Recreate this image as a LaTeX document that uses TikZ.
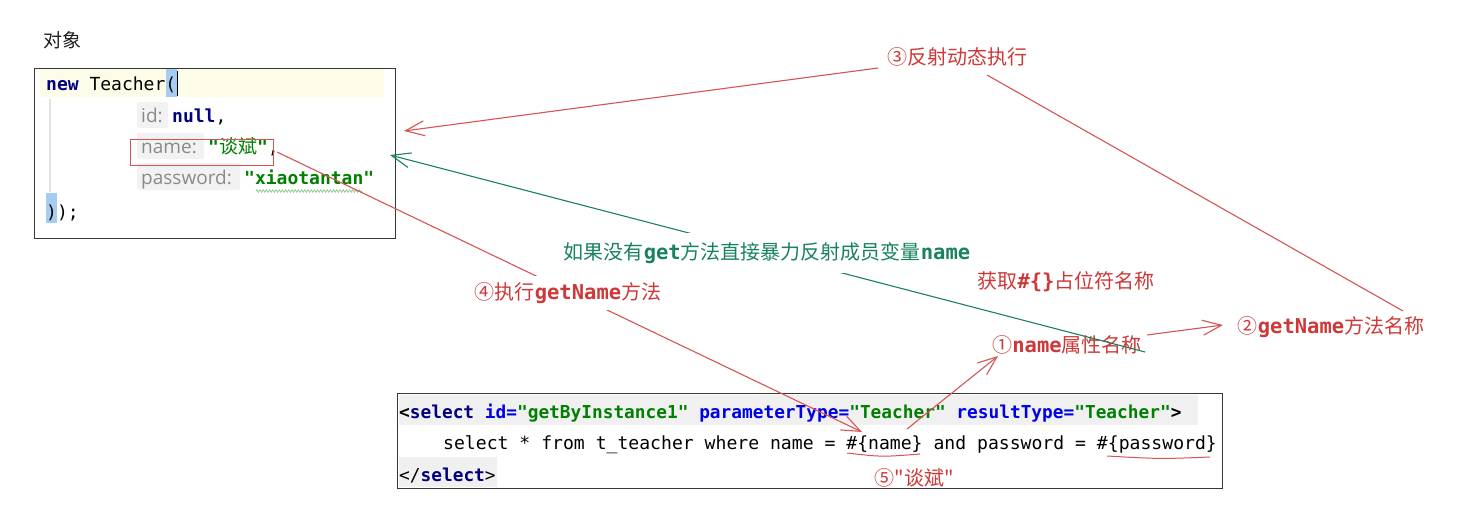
\documentclass[tikz,border=0pt]{standalone}
\usepackage{fontspec}
\setmonofont{DejaVu Sans Mono}
\newfontfamily\cjk{Noto Sans CJK SC}
\newfontfamily\hintfont{Open Sans}
\usetikzlibrary{arrows.meta,decorations.pathmorphing}

\definecolor{annred}{RGB}{206,56,56}
\definecolor{linered}{RGB}{214,84,84}
\definecolor{anngreen}{RGB}{24,130,96}
\definecolor{kwnavy}{RGB}{0,0,128}
\definecolor{attrblue}{RGB}{0,0,230}
\definecolor{strgreen}{RGB}{0,128,0}
\definecolor{hintgray}{RGB}{138,138,138}
\definecolor{hintbg}{RGB}{242,242,242}
\definecolor{lineyellow}{RGB}{253,252,232}
\definecolor{selblue}{RGB}{166,204,242}
\definecolor{codebg}{RGB}{240,240,240}
\definecolor{framegray}{RGB}{55,55,55}
\definecolor{guidegray}{RGB}{226,226,226}
\definecolor{squiggle}{RGB}{150,205,150}

\newcommand\annmono[1]{{\ttfamily\bfseries\fontsize{20.5}{24}\selectfont #1}}

\tikzset{
  code/.style={inner sep=0pt, anchor=base west, font=\ttfamily\fontsize{18}{20}\selectfont},
  hintst/.style={inner sep=0pt, anchor=base west, text=hintgray, font=\hintfont\fontsize{19}{22}\selectfont},
  ann/.style={inner sep=0pt, text=annred, font=\cjk\fontsize{20}{24}\selectfont},
  anng/.style={inner sep=0pt, text=anngreen, font=\cjk\fontsize{20}{24}\selectfont},
  framebox/.style={draw=framegray, line width=1.3pt, inner sep=0pt, anchor=north west},
  redarr/.style={draw=linered, line width=1.1pt, -{Straight Barb[length=19pt,width=15pt]}},
  redline/.style={draw=linered, line width=1.1pt},
  greenarr/.style={draw=anngreen, line width=1.1pt, -{Straight Barb[length=19pt,width=15pt]}},
}

\begin{document}
\begin{tikzpicture}[x=1pt,y=-1pt]
\fill[white] (0,0) rectangle (1464,509);
\useasboundingbox (0,0) rectangle (1464,509);

% ---------- object label ----------
\node[inner sep=0pt, font=\cjk\fontsize{19}{22}\selectfont, text=black!88] (objlabel) at (62,40) {对象};

% ---------- top code box ----------
\fill[lineyellow] (40,69) rectangle (384,97);
\fill[selblue] (166,69) rectangle (177,97);
\fill[selblue] (46,193) rectangle (57,223);
\draw[guidegray, line width=1.5pt] (50,99) -- (50,192);
\fill[hintbg, rounded corners=2pt] (137,102) rectangle (168,128);
\fill[hintbg, rounded corners=2pt] (137,133) rectangle (204,159);
\fill[hintbg, rounded corners=2pt] (137,163) rectangle (240,190);

\node[framebox, minimum width=361pt, minimum height=170pt] (objbox) at (34,68) {};

\node[code] (c1) at (46,90) {\textcolor{kwnavy}{\bfseries new} Teacher(};
\draw[black, line width=1.6pt] (177.5,71) -- (177.5,96);
\node[hintst] (h1) at (141,122) {id:};
\node[code] (c2) at (172,122) {\textcolor{kwnavy}{\bfseries null},};
\node[hintst] (h2) at (141,153) {name:};
\node[code] (c3) at (208,153) {\textcolor{strgreen}{\bfseries"{\mdseries\cjk\fontsize{19}{20}\selectfont 谈斌}"},};
\node[hintst] (h3) at (141,184) {password:};
\node[code] (c4) at (244,184) {\textcolor{strgreen}{\bfseries"xiaotantan"}};
\draw[squiggle, line width=0.8pt, decorate, decoration={zigzag, amplitude=1.3pt, segment length=3.2pt}] (256,191) -- (362,191);
\node[code] (c5) at (46,218) {));};

\node[draw=linered, line width=1pt, inner sep=0pt, anchor=north west, minimum width=143pt, minimum height=26pt] (namebox) at (130,139) {};

% ---------- bottom code box ----------
\fill[codebg] (399,395) rectangle (1198,425);
\fill[codebg] (399,457) rectangle (497,487);
\node[framebox, minimum width=825pt, minimum height=95pt] (selbox) at (397,393) {};

\node[code, font=\ttfamily\bfseries\fontsize{17.8}{20}\selectfont] (s1) at (399,418)
  {<\textcolor{kwnavy}{select} \textcolor{attrblue}{id=}\textcolor{strgreen}{"getByInstance1"} \textcolor{attrblue}{parameterType=}\textcolor{strgreen}{"Teacher"} \textcolor{attrblue}{resultType=}\textcolor{strgreen}{"Teacher"}>};
\node[code, font=\ttfamily\fontsize{18.1}{20}\selectfont] (s2) at (443,449)
  {select * from t\_teacher where name = \#\{name\} and password = \#\{password\}};
\node[code, font=\ttfamily\fontsize{17.8}{20}\selectfont] (s3) at (399,481)
  {</\textcolor{kwnavy}{\bfseries select}>};

\draw[redline, line width=1pt] (847,453) .. controls (882,457) .. (920,454);
\draw[redline, line width=1pt] (1107,456) .. controls (1160,459) .. (1210,457);

% ---------- annotation labels ----------
\node[ann] (lab3) at (957,57) {③反射动态执行};
\node[ann] (labget) at (1066,282) {获取\annmono{\#\{\}}占位符名称};
\node[ann] (lab1) at (1067,345) {①\annmono{name}属性名称};
\node[ann] (lab2) at (1331,327) {②\annmono{getName}方法名称};
\node[ann] (lab5) at (914,478) {⑤"谈斌"};

% ---------- connector end points ----------
\coordinate (s3a) at (878,68);
\coordinate (t3a) at (404,131);
\coordinate (s3b) at (987,75);
\coordinate (t3b) at (1403,311);
\coordinate (sg) at (1145,352);
\coordinate (tg) at (390,155);
\coordinate (s4) at (277,152);
\coordinate (t4) at (862,432);
\coordinate (s1a) at (907,429);
\coordinate (t1a) at (998,356);
\coordinate (s2a) at (1147,335);
\coordinate (t2a) at (1223,325);

% ---------- connectors ----------
\draw[redarr] (s3a) -- (t3a);
\draw[redline] (s3b) -- (t3b);
\draw[greenarr] (sg) -- (tg);
\draw[redarr] (s4) -- (t4);
\draw[redarr] (s1a) -- (t1a);
\draw[redarr] (s2a) -- (t2a);

% ---------- labels that hide the lines behind them ----------
\node[anng, fill=white, inner xsep=2pt, inner ysep=9.5pt] (labg) at (767,253)
  {如果没有\annmono{get}方法直接暴力反射成员变量\annmono{name}};
\node[ann, fill=white, inner xsep=2pt, inner ysep=6pt] (lab4) at (568,293)
  {④执行\annmono{getName}方法};
\end{tikzpicture}
\end{document}
